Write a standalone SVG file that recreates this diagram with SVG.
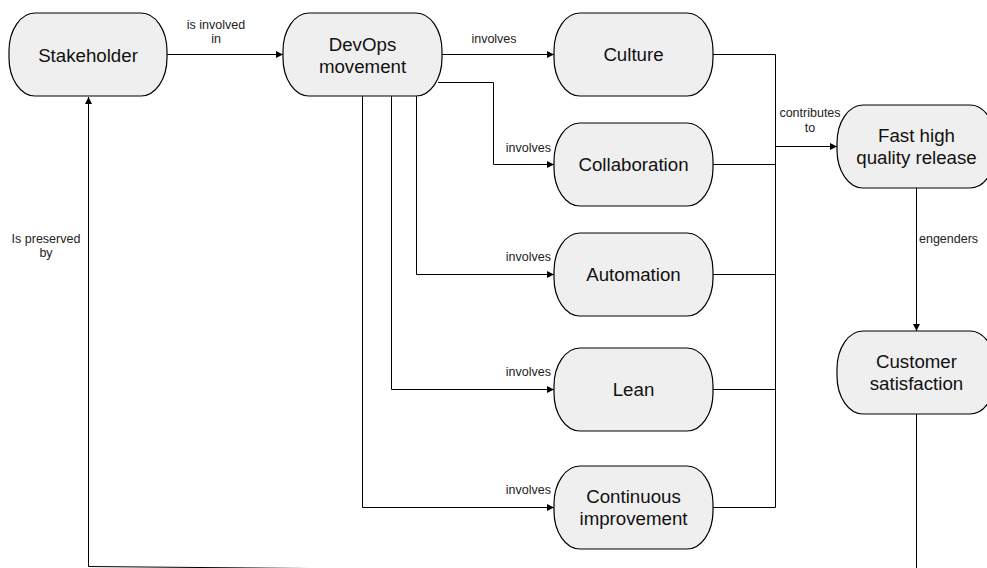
<svg xmlns="http://www.w3.org/2000/svg" width="987" height="568" viewBox="0 0 987 568">
<style>
.node rect{fill:#efefef;stroke:#000;stroke-width:1.2}
.node text{font-family:"Liberation Sans",Arial,sans-serif;font-size:18.7px;fill:#111;text-anchor:middle}
.edges path{fill:none;stroke:#000;stroke-width:1}
.lbl{font-family:"Liberation Sans",Arial,sans-serif;font-size:12.5px;fill:#222}
</style>
<defs>
<marker id="arr" markerUnits="userSpaceOnUse" markerWidth="8" markerHeight="8" refX="7" refY="3.5" orient="auto">
<path d="M0,0 L7,3.5 L0,7 z" fill="#000"/>
</marker>
</defs>
<rect width="987" height="568" fill="#fff"/>
<g class="edges">
<path d="M167,54.5 H283" marker-end="url(#arr)"/>
<path d="M442,54.5 H554" marker-end="url(#arr)"/>
<path d="M438,82.5 H493.5 V164.5 H554" marker-end="url(#arr)"/>
<path d="M416.5,96 V274.5 H554" marker-end="url(#arr)"/>
<path d="M391.5,96 V389.5 H554" marker-end="url(#arr)"/>
<path d="M362.5,96 V507.5 H554" marker-end="url(#arr)"/>
<path d="M713,54.5 H775.5 V146.5 H837" marker-end="url(#arr)"/>
<path d="M713,164.5 H775.5 V146.5"/>
<path d="M713,274.5 H775.5 V146.5"/>
<path d="M713,389.5 H775.5 V146.5"/>
<path d="M713,507.5 H775.5 V146.5"/>
<path d="M916.5,188 V331" marker-end="url(#arr)"/>
<path d="M916.5,414 L916.5,574 L88.5,566.5 L88.5,97" marker-end="url(#arr)"/>
<text class="lbl" x="216" y="29" text-anchor="middle">is involved</text>
<text class="lbl" x="216" y="43" text-anchor="middle">in</text>
<text class="lbl" x="494" y="43" text-anchor="middle">involves</text>
<text class="lbl" x="551" y="152" text-anchor="end">involves</text>
<text class="lbl" x="551" y="261" text-anchor="end">involves</text>
<text class="lbl" x="551" y="376" text-anchor="end">involves</text>
<text class="lbl" x="551" y="494" text-anchor="end">involves</text>
<text class="lbl" x="810" y="117" text-anchor="middle">contributes</text>
<text class="lbl" x="810" y="132" text-anchor="middle">to</text>
<text class="lbl" x="919" y="243">engenders</text>
<text class="lbl" x="46" y="243" text-anchor="middle">Is preserved</text>
<text class="lbl" x="46" y="257" text-anchor="middle">by</text>
</g>
<g id="stakeholder" class="node"><rect x="9" y="13" width="158" height="83" rx="26" ry="38"/><text x="88" y="61.5">Stakeholder</text></g>
<g id="devops" class="node"><rect x="283" y="13" width="159" height="83" rx="26" ry="38"/><text x="362.5" y="50.5">DevOps</text><text x="362.5" y="72.5">movement</text></g>
<g id="culture" class="node"><rect x="554" y="13" width="159" height="83" rx="26" ry="38"/><text x="633.5" y="61">Culture</text></g>
<g id="collaboration" class="node"><rect x="554" y="123" width="159" height="83" rx="26" ry="38"/><text x="633.5" y="171">Collaboration</text></g>
<g id="automation" class="node"><rect x="554" y="233" width="159" height="83" rx="26" ry="38"/><text x="633.5" y="281">Automation</text></g>
<g id="lean" class="node"><rect x="554" y="348" width="159" height="83" rx="26" ry="38"/><text x="633.5" y="396">Lean</text></g>
<g id="continuous" class="node"><rect x="554" y="466" width="159" height="83" rx="26" ry="38"/><text x="633.5" y="503">Continuous</text><text x="633.5" y="525">improvement</text></g>
<g id="fast" class="node"><rect x="837" y="105" width="159" height="83" rx="26" ry="38"/><text x="916.5" y="142">Fast high</text><text x="916.5" y="164">quality release</text></g>
<g id="customer" class="node"><rect x="837" y="331" width="159" height="83" rx="26" ry="38"/><text x="916.5" y="368">Customer</text><text x="916.5" y="390">satisfaction</text></g>
</svg>
